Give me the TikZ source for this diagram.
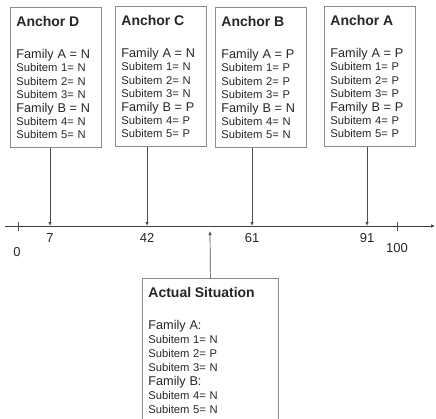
\documentclass[tikz,border=0pt]{standalone}
\usepackage{fontspec}
\setmainfont{Liberation Sans}
\usetikzlibrary{positioning, arrows.meta}

\newcommand{\boxtitle}[1]{{\fontsize{14}{14}\selectfont\bfseries #1}}
\newcommand{\famline}[1]{{\fontsize{12.7}{14}\selectfont #1}}
\newcommand{\subline}[1]{{\fontsize{11.2}{14}\selectfont #1}}

\begin{document}
\begin{tikzpicture}[
            x=1pt, y=-1pt,
            anchorbox/.style={rectangle, draw=black!45, line width=0.8pt, text=black!85, align=left, text width=79pt, inner xsep=6pt, inner ysep=8.5pt, anchor=north west, font=\fontsize{11.2}{13.4}\selectfont},
            actualbox/.style={anchorbox, text width=124pt, font=\fontsize{11.2}{14}\selectfont},
            arrow/.style={-{Latex[length=4pt, width=3.5pt]}, draw=black!70, line width=0.7pt},
            axis/.style={-{Latex[length=4pt, width=3.5pt]}, draw=black!75, line width=0.7pt},
            tick/.style={draw=black!70, line width=0.6pt},
            num/.style={inner sep=0pt, text=black!85, font=\fontsize{13}{13}\selectfont}
        ]
        \useasboundingbox (0,0) rectangle (436,418);

        % Define the anchor boxes
        \node[anchorbox] (anchorD) at (10,7) {\boxtitle{Anchor D}\\[19pt]
            \famline{Family A = N}\\ \subline{Subitem 1= N}\\ \subline{Subitem 2= N}\\ \subline{Subitem 3= N}\\
            \famline{Family B = N}\\ \subline{Subitem 4= N}\\ \subline{Subitem 5= N}};
        \node[anchorbox] (anchorC) at (115,6) {\boxtitle{Anchor C}\\[19pt]
            \famline{Family A = N}\\ \subline{Subitem 1= N}\\ \subline{Subitem 2= N}\\ \subline{Subitem 3= N}\\
            \famline{Family B = P}\\ \subline{Subitem 4= P}\\ \subline{Subitem 5= P}};
        \node[anchorbox] (anchorB) at (215,7) {\boxtitle{Anchor B}\\[19pt]
            \famline{Family A = P}\\ \subline{Subitem 1= P}\\ \subline{Subitem 2= P}\\ \subline{Subitem 3= P}\\
            \famline{Family B = N}\\ \subline{Subitem 4= N}\\ \subline{Subitem 5= N}};
        \node[anchorbox] (anchorA) at (324,6) {\boxtitle{Anchor A}\\[19pt]
            \famline{Family A = P}\\ \subline{Subitem 1= P}\\ \subline{Subitem 2= P}\\ \subline{Subitem 3= P}\\
            \famline{Family B = P}\\ \subline{Subitem 4= P}\\ \subline{Subitem 5= P}};

        % The actual situation box
        \node[actualbox] (actual) at (142,278) {\boxtitle{Actual Situation}\\[18pt]
            \famline{Family A:}\\ \subline{Subitem 1= N}\\ \subline{Subitem 2= P}\\ \subline{Subitem 3= N}\\
            \famline{Family B:}\\ \subline{Subitem 4= N}\\ \subline{Subitem 5= N}};

        % Points on the axis
        \coordinate (axstart) at (5,226);
        \coordinate (axend) at (435,226);
        \coordinate (t0) at (18,226);
        \coordinate (t7) at (50,226);
        \coordinate (t42) at (147,226);
        \coordinate (t61) at (252,226);
        \coordinate (t91) at (367,226);
        \coordinate (t100) at (397,226);
        \coordinate (tactual) at (210,231);

        % Draw the axis with its ticks and numbers
        \draw[axis] (axstart) -- (axend);
        \draw[tick] ([yshift=4pt]t0) -- ([yshift=-5pt]t0);
        \draw[tick] ([yshift=4pt]t100) -- ([yshift=-5pt]t100);
        \node[num, below=21pt of t0, xshift=-1pt] (n0) {0};
        \node[num, below=7pt of t7] (n7) {7};
        \node[num, below=7pt of t42] (n42) {42};
        \node[num, below=7pt of t61] (n61) {61};
        \node[num, below=7.5pt of t91] (n91) {91};
        \node[num, below=17pt of t100] (n100) {100};

        % Draw the arrows from the boxes to the axis
        \draw[arrow] (anchorD.south -| t7) -- (t7);
        \draw[arrow] (anchorC.south -| t42) -- (t42);
        \draw[arrow] (anchorB.south -| t61) -- (t61);
        \draw[arrow] (anchorA.south -| t91) -- (t91);
        \draw[arrow] (actual.north) -- (tactual);
    \end{tikzpicture}
\end{document}
